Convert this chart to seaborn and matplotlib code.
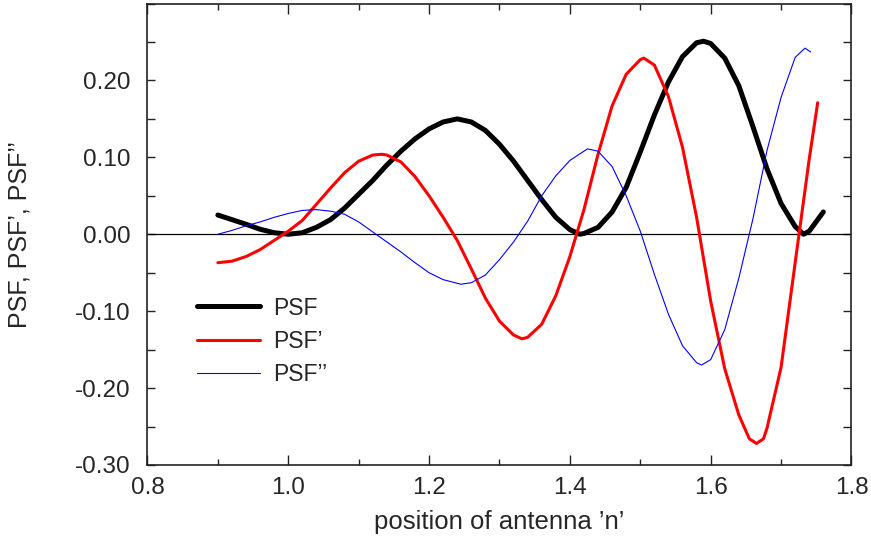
import seaborn as sns
import matplotlib.pyplot as plt
import matplotlib.ticker as mticker

# values
psf_x = [0.90, 0.92, 0.94, 0.96, 0.98, 1.00, 1.02, 1.04, 1.06, 1.08, 1.10, 1.12, 1.14, 1.16,
         1.18, 1.20, 1.22, 1.24, 1.26, 1.28, 1.30, 1.32, 1.34, 1.36, 1.38, 1.40, 1.414,
         1.42, 1.44, 1.46, 1.48, 1.50, 1.52, 1.54, 1.56, 1.58, 1.59, 1.60, 1.62, 1.64,
         1.66, 1.68, 1.70, 1.72, 1.732, 1.74, 1.76]
psf_y = [0.025, 0.019, 0.013, 0.0065, 0.002, 0.000, 0.002, 0.009, 0.019, 0.034, 0.052, 0.070,
         0.090, 0.108, 0.124, 0.137, 0.146, 0.150, 0.146, 0.135, 0.117, 0.095, 0.070, 0.045,
         0.022, 0.006, 0.000, 0.001, 0.009, 0.029, 0.061, 0.107, 0.155, 0.198, 0.231, 0.249,
         0.251, 0.248, 0.229, 0.193, 0.140, 0.085, 0.040, 0.010, 0.000, 0.004, 0.029]

dpsf_x = [0.90, 0.92, 0.94, 0.96, 0.98, 1.00, 1.02, 1.04, 1.06, 1.08, 1.10, 1.12, 1.133,
          1.14, 1.16, 1.18, 1.20, 1.22, 1.24, 1.26, 1.28, 1.30, 1.32, 1.332, 1.34, 1.36,
          1.38, 1.40, 1.42, 1.44, 1.46, 1.48, 1.50, 1.505, 1.52, 1.54, 1.56, 1.58, 1.60,
          1.62, 1.64, 1.655, 1.665, 1.675, 1.68, 1.70, 1.72, 1.74, 1.752]
dpsf_y = [-0.037, -0.035, -0.029, -0.020, -0.008, 0.004, 0.018, 0.039, 0.060, 0.080, 0.095,
          0.103, 0.104, 0.103, 0.094, 0.075, 0.050, 0.022, -0.008, -0.045, -0.083, -0.113,
          -0.131, -0.136, -0.134, -0.117, -0.080, -0.029, 0.032, 0.104, 0.167, 0.208, 0.227,
          0.229, 0.220, 0.179, 0.113, 0.022, -0.087, -0.175, -0.235, -0.266, -0.272, -0.266,
          -0.252, -0.173, -0.037, 0.098, 0.171]

ddpsf_x = [0.90, 0.92, 0.94, 0.96, 0.98, 1.00, 1.02, 1.04, 1.06, 1.08, 1.10, 1.12, 1.14,
           1.16, 1.18, 1.20, 1.22, 1.245, 1.26, 1.28, 1.30, 1.32, 1.34, 1.36, 1.38, 1.40,
           1.425, 1.44, 1.46, 1.48, 1.50, 1.52, 1.54, 1.56, 1.58, 1.587, 1.60, 1.62, 1.64,
           1.66, 1.68, 1.70, 1.72, 1.734, 1.742]
ddpsf_y = [0.000, 0.005, 0.011, 0.016, 0.022, 0.027, 0.031, 0.032, 0.030, 0.026, 0.016,
           0.003, -0.010, -0.023, -0.037, -0.050, -0.059, -0.065, -0.063, -0.053, -0.033,
           -0.010, 0.017, 0.050, 0.076, 0.096, 0.111, 0.108, 0.088, 0.050, 0.004, -0.052,
           -0.104, -0.145, -0.167, -0.170, -0.163, -0.124, -0.057, 0.020, 0.109, 0.178,
           0.230, 0.242, 0.237]

x_ticks = [0.8, 1.0, 1.2, 1.4, 1.6, 1.8]
y_ticks = [-0.3, -0.2, -0.1, 0.0, 0.1, 0.2]

sns.set_style("ticks")
plt.rcParams['font.family'] = ['Liberation Sans', 'DejaVu Sans']

fig = plt.figure(figsize=(8.71, 5.41), dpi=100)
ax = fig.add_axes([0.1693, 0.1405, 0.8083, 0.853])

ax.axhline(0, color='black', lw=0.9, zorder=1)
sns.lineplot(x=psf_x, y=psf_y, ax=ax, color='black', lw=3.6, label='PSF', sort=False)
sns.lineplot(x=dpsf_x, y=dpsf_y, ax=ax, color='#ff0000', lw=2.2, label='PSF’', sort=False)
sns.lineplot(x=ddpsf_x, y=ddpsf_y, ax=ax, color='#0000ff', lw=0.8, label='PSF’’', sort=False)

ax.set_xlim(0.8, 1.8)
ax.set_ylim(-0.30, 0.30)
ax.set_xticks(x_ticks)
ax.set_xticklabels([f'{v:.1f}' for v in x_ticks])
ax.set_yticks(y_ticks)
ax.set_yticklabels([f'{v:.2f}' for v in y_ticks])
ax.xaxis.set_minor_locator(mticker.MultipleLocator(0.1))
ax.yaxis.set_minor_locator(mticker.MultipleLocator(0.05))
ax.tick_params(which='both', direction='in', top=True, right=True, labelsize=17.5,
               width=1, color='#222222')
ax.tick_params(axis='x', which='major', length=7, pad=8.5)
ax.tick_params(axis='x', which='minor', length=4)
ax.tick_params(axis='y', which='both', length=6, pad=12)
for s in ax.spines.values():
    s.set_linewidth(1.2)
    s.set_color('#222222')

ax.set_xlabel('position of antenna ’n’', fontsize=18.5)
ax.set_ylabel('PSF, PSF’, PSF’’', fontsize=18)
ax.xaxis.set_label_coords(0.5, -0.098)
ax.yaxis.set_label_coords(-0.164, 0.5)

ax.legend(loc='center left', bbox_to_anchor=(0.071, 0.268), frameon=False, fontsize=16.5,
          handlelength=2.75, handletextpad=0.55, labelspacing=0.45, borderpad=0, borderaxespad=0)

fig.savefig('out.png', dpi=100)
